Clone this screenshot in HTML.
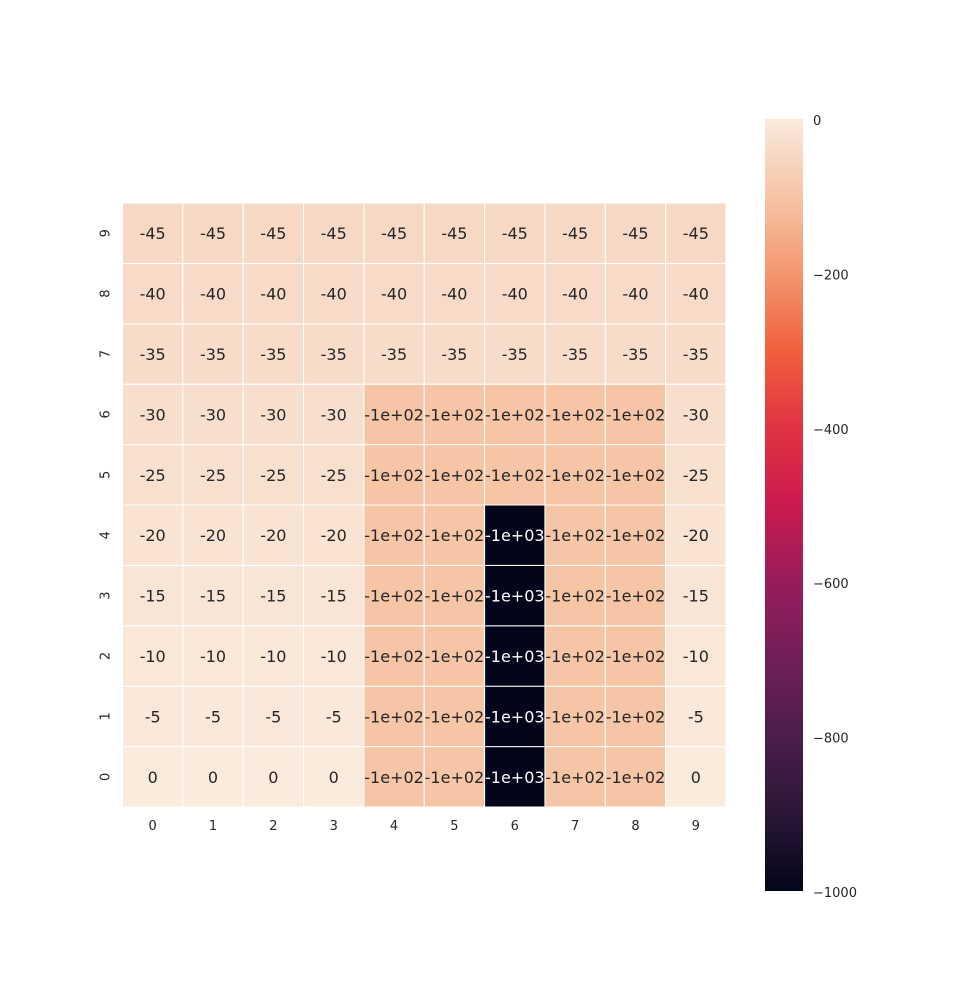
<!DOCTYPE html>
<html><head><meta charset="utf-8"><style>
body{margin:0;background:#fff;}
svg{display:block;font-family:"DejaVu Sans","Liberation Sans",sans-serif;}
</style></head><body>
<svg id="chart" width="976" height="1002" viewBox="0 0 976 1002">
<defs><linearGradient id="cbgrad" x1="0" y1="1" x2="0" y2="0"></linearGradient></defs>
<g id="cells"></g>
<g id="annots"></g>
<g id="xticks"></g>
<g id="yticks"></g>
<rect x="765" y="119" width="38" height="772" fill="url(#cbgrad)"/>
<g id="cbticks"></g>
</svg>
<script>
const xCategories = ["0","1","2","3","4","5","6","7","8","9"];
const yCategories = ["0","1","2","3","4","5","6","7","8","9"];
// values[row][col], row 0 = bottom
const values = [
 [0,0,0,0,-100,-100,-1000,-100,-100,0],
 [-5,-5,-5,-5,-100,-100,-1000,-100,-100,-5],
 [-10,-10,-10,-10,-100,-100,-1000,-100,-100,-10],
 [-15,-15,-15,-15,-100,-100,-1000,-100,-100,-15],
 [-20,-20,-20,-20,-100,-100,-1000,-100,-100,-20],
 [-25,-25,-25,-25,-100,-100,-100,-100,-100,-25],
 [-30,-30,-30,-30,-100,-100,-100,-100,-100,-30],
 [-35,-35,-35,-35,-35,-35,-35,-35,-35,-35],
 [-40,-40,-40,-40,-40,-40,-40,-40,-40,-40],
 [-45,-45,-45,-45,-45,-45,-45,-45,-45,-45]
];
const cbTicks = [0,-200,-400,-600,-800,-1000];
const vmin = -1000, vmax = 0;
const NS = "http://www.w3.org/2000/svg";
const gx0 = 122.5, gx1 = 726, gy0 = 203, gy1 = 807;
const cw = (gx1-gx0)/xCategories.length, ch = (gy1-gy0)/yCategories.length;
const cbTop = 119, cbBot = 891;
const stops = [[0,"#03051a"],[0.1,"#2a1636"],[0.2,"#4c1d4b"],[0.3,"#701f57"],[0.4,"#971c5b"],[0.5,"#cb1b4f"],[0.6,"#e13342"],[0.7,"#f0603c"],[0.8,"#f3976f"],[0.9,"#f6c5a6"],[0.955,"#f7d8c4"],[1,"#faebdd"]];
function hex(h){return [1,3,5].map(i=>parseInt(h.substr(i,2),16));}
function cmap(t){
  t=Math.max(0,Math.min(1,t));
  for(let i=1;i<stops.length;i++){ if(t<=stops[i][0]){
    const a=stops[i-1],b=stops[i],f=(t-a[0])/(b[0]-a[0]);
    const ca=hex(a[1]),cb=hex(b[1]);
    return "rgb("+ca.map((v,k)=>Math.round(v+(cb[k]-v)*f)).join(",")+")";}}
  return stops[stops.length-1][1];
}
const norm = v => (v-vmin)/(vmax-vmin);
const xPos = i => gx0 + i*cw;
const yPos = r => gy1 - (r+1)*ch;
const cbY = v => cbBot - norm(v)*(cbBot-cbTop);
const fmt = v => Math.abs(v)>=100 ? ("-1e+0"+Math.round(Math.log10(Math.abs(v)))) : String(v);
const cells=document.getElementById("cells"), annots=document.getElementById("annots");
values.forEach((row,r)=>row.forEach((v,c)=>{
  const rc=document.createElementNS(NS,"rect");
  
  
  rc.setAttribute("x",xPos(c));rc.setAttribute("y",yPos(r));
  rc.setAttribute("width",cw);rc.setAttribute("height",ch);
  rc.setAttribute("fill",cmap(norm(v)));rc.setAttribute("stroke","#fff");rc.setAttribute("stroke-width","1");
  cells.appendChild(rc);
  const t=document.createElementNS(NS,"text");
  
  
  t.setAttribute("x",xPos(c)+cw/2);t.setAttribute("y",yPos(r)+ch/2+6);
  t.setAttribute("text-anchor","middle");t.setAttribute("font-size","16");
  t.setAttribute("fill",norm(v)<0.5?"#ffffff":"#262626");
  t.textContent=fmt(v);annots.appendChild(t);
}));
const xt=document.getElementById("xticks");
xCategories.forEach((l,i)=>{const t=document.createElementNS(NS,"text");
  
  
  t.setAttribute("x",xPos(i)+cw/2);t.setAttribute("y",830);t.setAttribute("text-anchor","middle");
  t.setAttribute("font-size","13");t.setAttribute("fill","#262626");t.textContent=l;xt.appendChild(t);});
const yt=document.getElementById("yticks");
yCategories.forEach((l,i)=>{const t=document.createElementNS(NS,"text");
  
  
  const cx=105, cy=yPos(i)+ch/2;
  t.setAttribute("x",cx);t.setAttribute("y",cy+4.5);t.setAttribute("text-anchor","middle");
  t.setAttribute("transform","rotate(-90 "+cx+" "+cy+")");
  t.setAttribute("font-size","13");t.setAttribute("fill","#262626");t.textContent=l;yt.appendChild(t);});
const g=document.getElementById("cbgrad");
for(let i=0;i<=40;i++){const s=document.createElementNS(NS,"stop");
  s.setAttribute("offset",(i/40));s.setAttribute("stop-color",cmap(i/40));g.appendChild(s);}
const cbt=document.getElementById("cbticks");
cbTicks.forEach(v=>{const t=document.createElementNS(NS,"text");
  
  
  t.setAttribute("x",813);t.setAttribute("y",cbY(v)+6);t.setAttribute("font-size","13");
  t.setAttribute("fill","#262626");t.textContent=v<0?"\u2212"+Math.abs(v):String(v);cbt.appendChild(t);});
</script>
</body></html>
